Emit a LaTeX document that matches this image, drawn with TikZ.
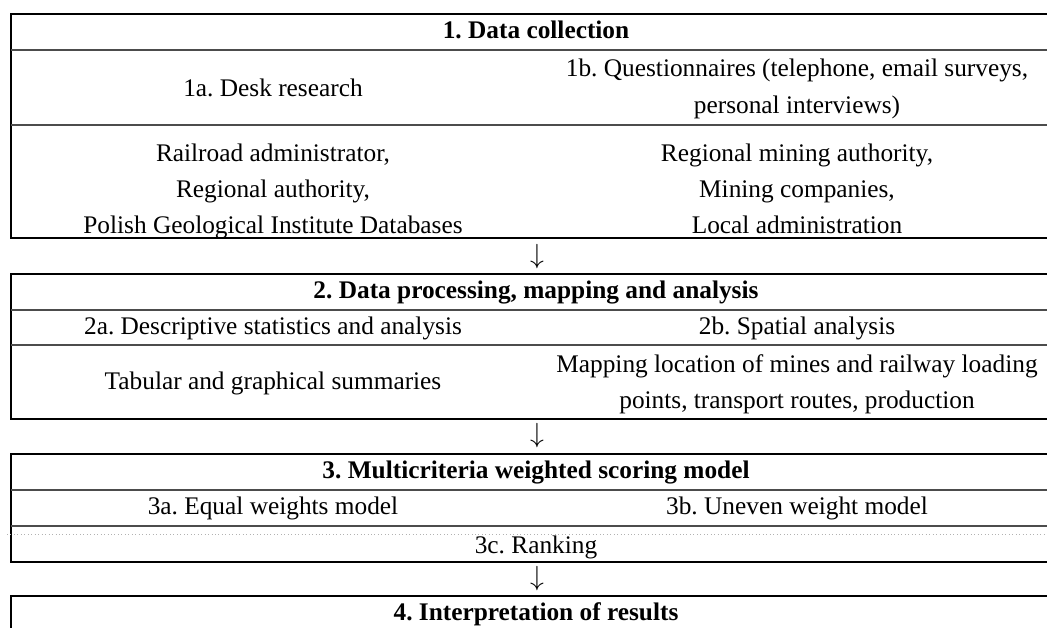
\documentclass[tikz,border=0pt]{standalone}
\usepackage{fontspec}
\setmainfont{Liberation Serif}
\frenchspacing
\begin{document}
\begin{tikzpicture}[x=0.75pt,y=-0.75pt,
  txt/.style={anchor=mid, inner sep=0pt, font=\fontsize{19}{22}\selectfont},
  ttl/.style={anchor=mid, inner sep=0pt, font=\fontsize{19}{22}\selectfont\bfseries},
  arr/.style={anchor=center, inner sep=0pt, font=\fontsize{22}{24}\selectfont},
  frame/.style={line width=1.5pt, black, line join=miter},
  rule/.style={line width=0.9pt, black!70},
  dotrule/.style={line width=0.6pt, black!30, dotted}]
\useasboundingbox (0,0) rectangle (1047,628);
\clip (0,0) rectangle (1047,628);
% ---------- box 1
\draw[frame] (1070,14) -- (11,14) -- (11,238) -- (1070,238);
\draw[rule] (11,50) -- (1070,50);
\draw[rule] (11,125) -- (1070,125);
\node[ttl] (t1) at (536,35) {1. Data collection};
\node[txt] (a1) at (273,93) {1a. Desk research};
\node[txt] (b1a) at (797,73) {1b. Questionnaires (telephone, email surveys,};
\node[txt] (b1b) at (797,110) {personal interviews)};
\node[txt] (a1r1) at (273,158) {Railroad administrator,};
\node[txt] (a1r2) at (273,194) {Regional authority,};
\node[txt] (a1r3) at (273,230) {Polish Geological Institute Databases};
\node[txt] (b1r1) at (797,158) {Regional mining authority,};
\node[txt] (b1r2) at (797,194) {Mining companies,};
\node[txt] (b1r3) at (797,230) {Local administration};
\node[arr] (ar1) at (537,257) {$\downarrow$};
% ---------- box 2
\draw[frame] (1070,274) -- (11,274) -- (11,419) -- (1070,419);
\draw[rule] (11,310) -- (1070,310);
\draw[rule] (11,345) -- (1070,345);
\node[ttl] (t2) at (536,295) {2. Data processing, mapping and analysis};
\node[txt] (a2) at (273,331) {2a. Descriptive statistics and analysis};
\node[txt] (b2) at (797,331) {2b. Spatial analysis};
\node[txt] (a2r) at (273,386) {Tabular and graphical summaries};
\node[txt] (b2r1) at (797,369) {Mapping location of mines and railway loading};
\node[txt] (b2r2) at (797,405) {points, transport routes, production};
\node[arr] (ar2) at (537,436) {$\downarrow$};
% ---------- box 3
\draw[frame] (1070,454) -- (11,454) -- (11,562) -- (1070,562);
\draw[rule] (11,490) -- (1070,490);
\draw[rule] (11,526) -- (1070,526);
\draw[dotrule] (7,534) -- (1070,534);
\node[ttl] (t3) at (536,475) {3. Multicriteria weighted scoring model};
\node[txt] (a3) at (273,511) {3a. Equal weights model};
\node[txt] (b3) at (797,511) {3b. Uneven weight model};
\node[txt] (c3) at (536,550) {3c. Ranking};
\node[arr] (ar3) at (537,579) {$\downarrow$};
% ---------- box 4
\draw[frame] (1070,596) -- (11,596) -- (11,640);
\node[ttl] (t4) at (536,617) {4. Interpretation of results};
\end{tikzpicture}
\end{document}
